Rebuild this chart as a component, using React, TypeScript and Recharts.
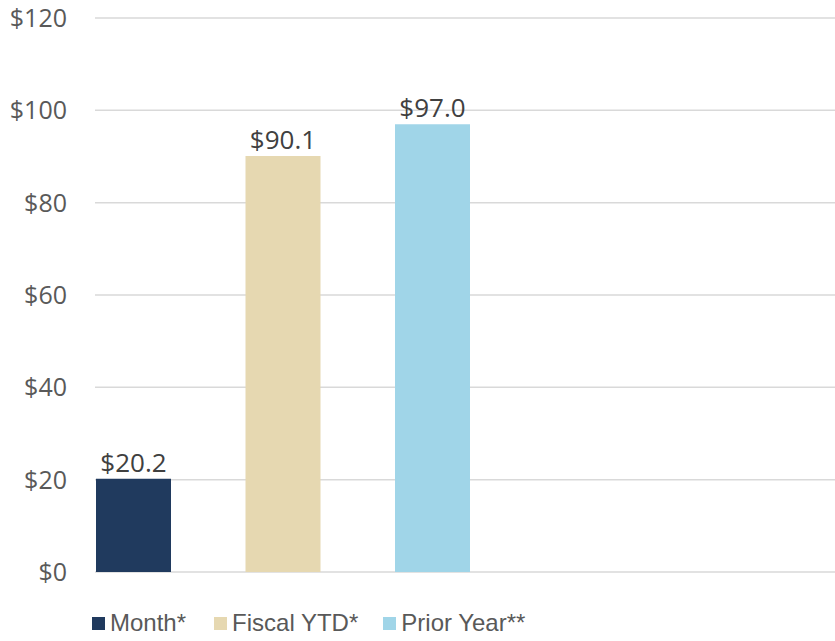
import React from 'react';
import { BarChart, Bar, XAxis, YAxis, CartesianGrid, Legend, LabelList } from 'recharts';

const categories = [''];
const monthValues = [20.2];
const fiscalYtdValues = [90.1];
const priorYearValues = [97.0];
const yTicks = [0, 20, 40, 60, 80, 100, 120];
const seriesNames = ['Month*', 'Fiscal YTD*', 'Prior Year**'];
const seriesKeys = ['month', 'ytd', 'prior'];
const seriesColors = ['#203A5E', '#E6D8B1', '#A0D5E8'];

const data = categories.map((c, i) => ({
  name: c,
  month: monthValues[i],
  ytd: fiscalYtdValues[i],
  prior: priorYearValues[i],
}));

const fmt = (v: any) => `$${Number(v).toFixed(1)}`;

const LegendContent = () => (
  <div style={{ display: 'flex', fontFamily: '"Liberation Sans", Arial, sans-serif', fontSize: 24, color: '#595959', lineHeight: '24px' }}>
    {seriesNames.map((n, i) => (
      <div key={n} style={{ display: 'flex', alignItems: 'center', marginRight: i === 0 ? 28 : 25 }}>
        <span style={{ display: 'inline-block', width: 13, height: 13, background: seriesColors[i], marginRight: 5 }} />
        <span>{n}</span>
      </div>
    ))}
  </div>
);

export default function App() {
  return (
    <div style={{ position: 'absolute', left: 0, top: 0, width: 835, height: 641, background: '#fff' }}>
      <BarChart
        width={835}
        height={641}
        data={data}
        margin={{ top: 18, right: 0, bottom: 45, left: 0 }}
        barCategoryGap={0}
        barGap={74.5}
      >
        <CartesianGrid vertical={false} stroke="#D9D9D9" strokeWidth={1.5} />
        <XAxis dataKey="name" hide padding={{ left: 0, right: 365 }} />
        <YAxis
          domain={[0, 120]}
          ticks={yTicks}
          width={95}
          axisLine={false}
          tickLine={false}
          tickSize={0}
          tickMargin={28}
          tickFormatter={(v: number) => `$${v}`}
          tick={{ fontSize: 25, fill: '#595959', fontFamily: '"Open Sans", sans-serif' }}
        />
        <Legend
          verticalAlign="bottom"
          align="left"
          content={LegendContent}
          wrapperStyle={{ position: 'absolute', left: 92, top: 611, bottom: 'auto', width: 'auto', height: 24 }}
        />
        {seriesKeys.map((k, i) => (
          <Bar key={k} dataKey={k} name={seriesNames[i]} fill={seriesColors[i]} barSize={75} isAnimationActive={false}>
            <LabelList
              dataKey={k}
              position="top"
              offset={7}
              formatter={fmt}
              style={{ fontSize: 26, fill: '#404040', fontFamily: '"Open Sans", sans-serif' }}
            />
          </Bar>
        ))}
      </BarChart>
    </div>
  );
}
